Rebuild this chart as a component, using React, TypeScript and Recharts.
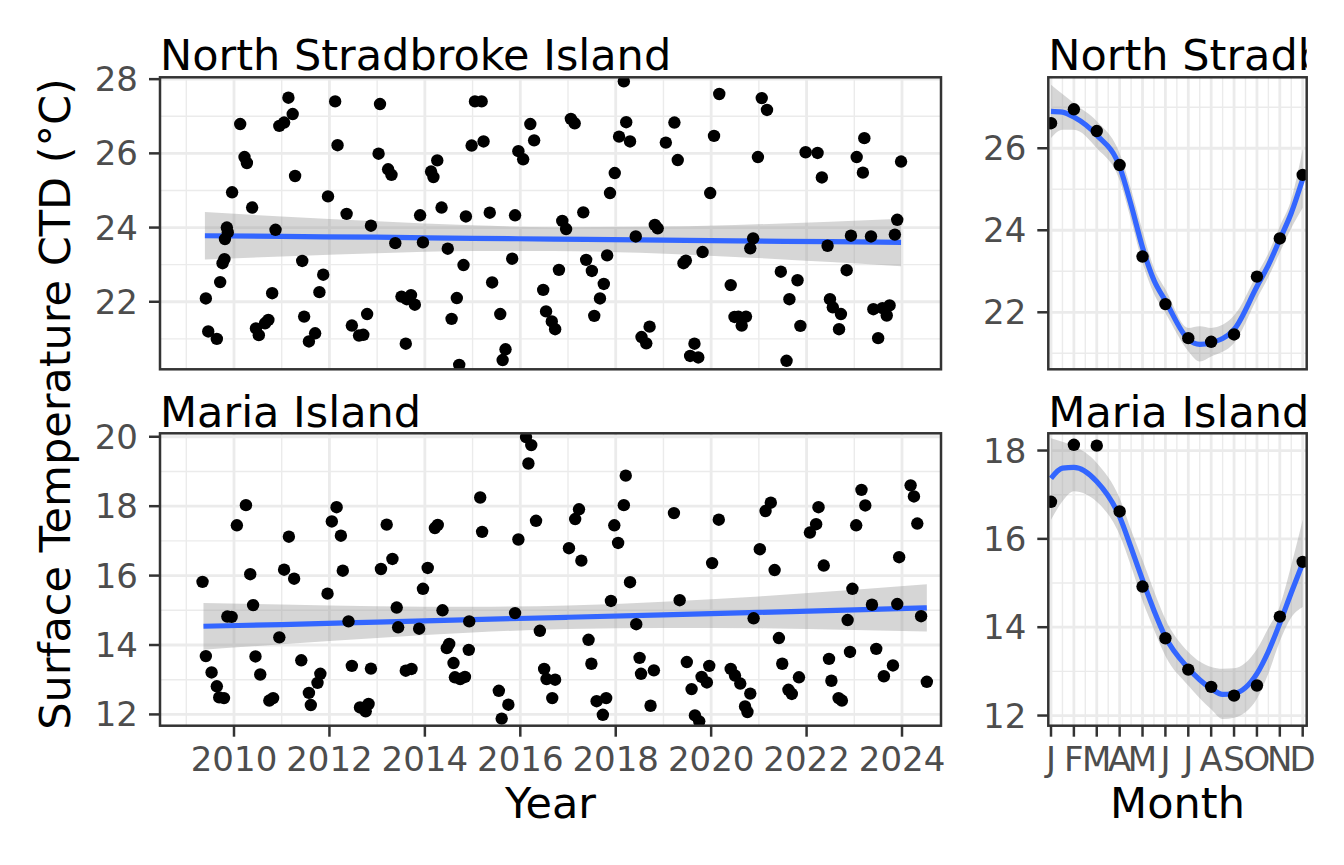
import React from "react";
import { Area, ComposedChart, Line, ReferenceLine, Scatter, XAxis, YAxis } from "recharts";

// North Stradbroke Island samples: [decimal year, temperature °C]
const nsiSamples: [number, number][] = [
  [2009.41, 22.09], [2009.46, 21.2], [2009.64, 21.0], [2009.71, 22.53], [2009.76, 23.04], [2009.8, 23.15], [2009.81, 23.69], [2009.85, 24.0], [2009.87, 23.87], [2009.96, 24.95],
  [2010.13, 26.79], [2010.22, 25.9], [2010.27, 25.74], [2010.38, 24.54], [2010.46, 21.28], [2010.52, 21.1], [2010.65, 21.42], [2010.72, 21.51], [2010.8, 22.23], [2010.87, 23.94], [2010.95, 26.74],
  [2011.05, 26.83], [2011.14, 27.5], [2011.23, 27.06], [2011.28, 25.39], [2011.43, 23.1], [2011.47, 21.6], [2011.57, 20.93], [2011.7, 21.15], [2011.79, 22.26], [2011.87, 22.73], [2011.97, 24.84],
  [2012.12, 27.4], [2012.17, 26.22], [2012.36, 24.37], [2012.47, 21.36], [2012.62, 21.09], [2012.71, 21.11], [2012.79, 21.67], [2012.87, 24.05],
  [2013.03, 25.99], [2013.06, 27.33], [2013.23, 25.57], [2013.3, 25.42], [2013.38, 23.58], [2013.51, 22.14], [2013.6, 20.87], [2013.62, 22.07], [2013.71, 22.18], [2013.79, 21.92], [2013.9, 24.33], [2013.96, 23.6],
  [2014.13, 25.51], [2014.18, 25.36], [2014.26, 25.81], [2014.35, 24.54], [2014.48, 23.43], [2014.56, 21.54], [2014.67, 22.1], [2014.72, 20.3], [2014.81, 22.99], [2014.86, 24.3], [2014.98, 26.21],
  [2015.05, 27.4], [2015.19, 27.4], [2015.23, 26.32], [2015.36, 24.4], [2015.41, 22.52], [2015.58, 21.67], [2015.63, 20.43], [2015.69, 20.72], [2015.83, 23.16], [2015.89, 24.33], [2015.96, 26.06],
  [2016.06, 25.84], [2016.21, 26.79], [2016.29, 26.35], [2016.48, 22.32], [2016.54, 21.74], [2016.66, 21.47], [2016.73, 21.26], [2016.81, 22.86], [2016.88, 24.18], [2016.96, 23.96],
  [2017.06, 26.93], [2017.14, 26.81], [2017.32, 24.41], [2017.38, 23.13], [2017.5, 22.83], [2017.55, 21.62], [2017.67, 22.09], [2017.75, 22.48], [2017.82, 23.25], [2017.88, 24.93], [2017.98, 25.47],
  [2018.07, 26.45], [2018.17, 27.94], [2018.22, 26.84], [2018.3, 26.32], [2018.42, 23.76], [2018.54, 21.05], [2018.64, 20.88], [2018.71, 21.33], [2018.82, 24.07], [2018.88, 23.98],
  [2019.05, 26.29], [2019.23, 26.83], [2019.3, 25.82], [2019.42, 23.04], [2019.47, 23.11], [2019.56, 20.54], [2019.65, 20.87], [2019.73, 20.5], [2019.82, 23.34], [2019.98, 24.93],
  [2020.06, 26.47], [2020.17, 27.6], [2020.41, 22.45], [2020.49, 21.59], [2020.57, 21.6], [2020.64, 21.36], [2020.73, 21.6], [2020.82, 23.44], [2020.88, 23.71], [2020.98, 25.9],
  [2021.06, 27.49], [2021.17, 27.17], [2021.46, 22.81], [2021.58, 20.41], [2021.64, 22.07], [2021.81, 22.58], [2021.87, 21.35], [2021.98, 26.03],
  [2022.23, 26.01], [2022.32, 25.35], [2022.44, 23.51], [2022.49, 22.07], [2022.55, 21.85], [2022.68, 21.26], [2022.72, 21.67], [2022.84, 22.85], [2022.93, 23.78],
  [2023.05, 25.9], [2023.18, 25.48], [2023.21, 26.41], [2023.35, 23.76], [2023.4, 21.8], [2023.5, 21.02], [2023.59, 21.83], [2023.68, 21.63], [2023.74, 21.9], [2023.85, 23.81], [2023.9, 24.21], [2023.98, 25.78],
];

// Maria Island samples: [decimal year, temperature °C]
const mariaSamples: [number, number][] = [
  [2009.34, 15.82], [2009.41, 13.68], [2009.53, 13.21], [2009.64, 12.81], [2009.69, 12.49], [2009.79, 12.47], [2009.86, 14.82], [2009.95, 14.81],
  [2010.06, 17.45], [2010.25, 18.03], [2010.34, 16.04], [2010.4, 15.15], [2010.45, 13.67], [2010.55, 13.15], [2010.74, 12.4], [2010.82, 12.47], [2010.95, 14.22],
  [2011.05, 16.17], [2011.15, 17.12], [2011.26, 15.91], [2011.41, 13.56], [2011.57, 12.62], [2011.61, 12.27], [2011.75, 12.91], [2011.81, 13.17], [2011.96, 15.48],
  [2012.05, 17.56], [2012.15, 17.97], [2012.24, 17.15], [2012.28, 16.14], [2012.4, 14.68], [2012.47, 13.4], [2012.64, 12.2], [2012.76, 12.09], [2012.82, 12.3], [2012.87, 13.32],
  [2013.08, 16.19], [2013.2, 17.47], [2013.32, 16.48], [2013.41, 15.08], [2013.44, 14.51], [2013.6, 13.26], [2013.72, 13.31], [2013.88, 14.47], [2013.96, 15.62],
  [2014.06, 16.22], [2014.21, 17.37], [2014.27, 17.46], [2014.37, 15.0], [2014.46, 13.91], [2014.51, 14.03], [2014.6, 13.48], [2014.63, 13.07], [2014.74, 13.02], [2014.84, 13.08], [2014.92, 13.86], [2014.93, 14.68],
  [2015.16, 18.25], [2015.2, 17.26], [2015.55, 12.68], [2015.61, 11.88], [2015.75, 12.28], [2015.89, 14.92], [2015.96, 17.04],
  [2016.12, 19.99], [2016.17, 19.23], [2016.23, 19.76], [2016.33, 17.58], [2016.41, 14.41], [2016.5, 13.31], [2016.55, 13.02], [2016.67, 12.47], [2016.73, 13.0],
  [2017.02, 16.79], [2017.15, 17.63], [2017.23, 17.91], [2017.28, 16.43], [2017.43, 14.15], [2017.49, 13.46], [2017.6, 12.38], [2017.73, 11.99], [2017.8, 12.47], [2017.9, 15.27], [2017.97, 17.45],
  [2018.05, 16.94], [2018.17, 18.03], [2018.21, 18.88], [2018.3, 15.81], [2018.43, 14.6], [2018.5, 13.63], [2018.53, 13.17], [2018.73, 12.25], [2018.8, 13.27],
  [2019.22, 17.8], [2019.34, 15.29], [2019.49, 13.51], [2019.59, 12.73], [2019.66, 11.97], [2019.75, 11.8], [2019.8, 13.08], [2019.91, 12.92], [2019.96, 13.4],
  [2020.02, 16.36], [2020.16, 17.61], [2020.41, 13.31], [2020.5, 13.12], [2020.61, 12.89], [2020.71, 12.23], [2020.76, 12.07], [2020.82, 12.6], [2020.89, 14.77],
  [2021.02, 16.76], [2021.14, 17.86], [2021.25, 18.1], [2021.33, 16.16], [2021.42, 14.2], [2021.49, 13.46], [2021.62, 12.71], [2021.69, 12.59], [2021.84, 13.07],
  [2022.07, 17.24], [2022.2, 17.48], [2022.25, 17.97], [2022.36, 16.29], [2022.47, 13.6], [2022.52, 12.97], [2022.67, 12.47], [2022.74, 12.4], [2022.86, 14.72], [2022.91, 13.8], [2022.96, 15.62],
  [2023.04, 17.45], [2023.15, 18.47], [2023.23, 18.02], [2023.37, 15.16], [2023.46, 13.89], [2023.62, 13.1], [2023.81, 13.41], [2023.9, 15.18], [2023.94, 16.53],
  [2024.18, 18.6], [2024.25, 18.28], [2024.32, 17.5], [2024.4, 14.83], [2024.52, 12.94],
];

// linear trend + 95% band: [year, fit, lower, upper]
const nsiTrend: [number, number, number, number][] = [
  [2009.39, 23.78, 23.14, 24.42], [2011.0, 23.76, 23.22, 24.3], [2013.0, 23.74, 23.31, 24.17],
  [2015.0, 23.71, 23.37, 24.06], [2016.7, 23.69, 23.37, 24.01], [2018.5, 23.67, 23.32, 24.02],
  [2020.5, 23.64, 23.21, 24.07], [2022.5, 23.62, 23.07, 24.16], [2023.98, 23.6, 22.96, 24.24],
];
const mariaTrend: [number, number, number, number][] = [
  [2009.36, 14.54, 13.86, 15.21], [2011.0, 14.59, 14.02, 15.17], [2013.0, 14.66, 14.2, 15.12],
  [2015.0, 14.73, 14.36, 15.1], [2017.0, 14.8, 14.46, 15.14], [2019.0, 14.87, 14.49, 15.25],
  [2021.0, 14.94, 14.48, 15.4], [2023.0, 15.01, 14.43, 15.59], [2024.52, 15.07, 14.39, 15.75],
];

// monthly means (Jan..Dec)
const monthLabels = ["J", "F", "M", "A", "M", "J", "J", "A", "S", "O", "N", "D"];
const nsiMonthMeans = [26.61, 26.95, 26.42, 25.59, 23.36, 22.2, 21.37, 21.28, 21.46, 22.87, 23.8, 25.35];
const mariaMonthMeans = [16.84, 18.13, 18.11, 16.62, 14.92, 13.75, 13.04, 12.65, 12.45, 12.68, 14.24, 15.48];

// seasonal smooth + band: [month, fit, lower, upper]
const nsiSeasonal: [number, number, number, number][] = [
  [1, 26.9, 26.25, 27.55], [1.5, 26.88, 26.45, 27.32], [2, 26.76, 26.45, 27.1], [3, 26.32, 26.0, 26.66],
  [4, 25.55, 25.22, 25.88], [4.5, 24.62, 24.25, 25.0], [5, 23.58, 23.2, 23.98], [5.5, 22.78, 22.45, 23.08],
  [6, 22.28, 21.98, 22.56], [7, 21.34, 21.05, 21.62], [7.5, 21.22, 20.8, 21.66], [8, 21.26, 20.92, 21.62],
  [9, 21.58, 21.25, 21.92], [10, 22.63, 22.33, 22.93], [10.5, 23.15, 22.86, 23.44], [11, 23.78, 23.46, 24.1],
  [11.5, 24.42, 24.05, 24.75], [12, 25.25, 24.55, 25.98],
];
const mariaSeasonal: [number, number, number, number][] = [
  [1, 17.37, 16.43, 18.28], [1.5, 17.6, 16.85, 18.2], [2, 17.62, 17.08, 18.1], [3, 17.3, 16.84, 17.72],
  [4, 16.5, 16.09, 16.92], [4.5, 15.8, 15.38, 16.2], [5, 15.07, 14.6, 15.52], [5.5, 14.38, 13.95, 14.82],
  [6, 13.78, 13.35, 14.18], [7, 13.07, 12.68, 13.44], [8, 12.61, 12.14, 13.1], [8.5, 12.48, 11.92, 13.06],
  [9, 12.5, 11.95, 13.07], [10, 12.95, 12.38, 13.5], [10.5, 13.45, 12.95, 13.98], [11, 14.09, 13.68, 14.48],
  [11.5, 14.78, 14.22, 15.4], [12, 15.45, 14.46, 16.43],
];

const yearTicks = [2010, 2012, 2014, 2016, 2018, 2020, 2022, 2024];
const yearMinor = [2009, 2011, 2013, 2015, 2017, 2019, 2021, 2023];
const monthTicks = [1, 2, 3, 4, 5, 6, 7, 8, 9, 10, 11, 12];
const monthMinor = [1.5, 2.5, 3.5, 4.5, 5.5, 6.5, 7.5, 8.5, 9.5, 10.5, 11.5];

const FONT = "DejaVu Sans, Verdana, sans-serif";
const GRID = "#ebebeb";
const INK = "#333333";

type Box = { left: number; top: number; width: number; height: number };
type Plot = { left: number; top: number; right: number; bottom: number };

const COL_YEAR = { left: 160, right: 941 };
const COL_MONTH = { left: 1048.3, right: 1306.7 };
const ROW_TOP = { top: 77.3, bottom: 369.3 };
const ROW_BOT = { top: 433.3, bottom: 725.7 };

const AXIS_H = 60;

function Dot(props: any) {
  return <circle cx={props.cx} cy={props.cy} r={6.2} fill="#000000" />;
}

function Panel(props: {
  box: Box;
  plot: Plot;
  samples: [number, number][];
  smooth: [number, number, number, number][];
  xDomain: [number, number];
  yDomain: [number, number];
  xMajor: number[];
  xMinor: number[];
  yMajor: number[];
  yMinor: number[];
  showX: boolean;
  xFormat?: (v: number) => string;
}) {
  const { box, plot, samples, smooth, xDomain, yDomain, xMajor, xMinor, yMajor, yMinor, showX, xFormat } = props;
  const points = samples.map(([x, y]) => ({ x, y }));
  const fit = smooth.map(([x, f, lo, hi]) => ({ x, fit: f, band: [lo, hi] }));
  const margin = {
    top: plot.top - box.top,
    right: box.left + box.width - plot.right,
    bottom: box.top + box.height - plot.bottom - (showX ? AXIS_H : 0),
    left: 0,
  };
  const tickStyle = { fill: "#4d4d4d", fontSize: 34, fontFamily: FONT };

  return (
    <div style={{ position: "absolute", left: box.left, top: box.top, width: box.width, height: box.height }}>
      <ComposedChart width={box.width} height={box.height} margin={margin}>
        <XAxis
          type="number"
          dataKey="x"
          domain={xDomain}
          allowDataOverflow
          ticks={xMajor}
          interval={0}
          hide={!showX}
          height={AXIS_H}
          axisLine={false}
          tickSize={11}
          tickMargin={10}
          tickLine={{ stroke: INK, strokeWidth: 2.5 }}
          tick={tickStyle}
          tickFormatter={xFormat}
        />
        <YAxis
          type="number"
          domain={yDomain}
          allowDataOverflow
          ticks={yMajor}
          interval={0}
          width={plot.left - box.left}
          axisLine={false}
          tickSize={11}
          tickMargin={11}
          tickLine={{ stroke: INK, strokeWidth: 2.5 }}
          tick={tickStyle}
        />
        {yMinor.map((v) => (
          <ReferenceLine key={"ym" + v} y={v} stroke={GRID} strokeWidth={1.4} zIndex={-100} />
        ))}
        {xMinor.map((v) => (
          <ReferenceLine key={"xm" + v} x={v} stroke={GRID} strokeWidth={1.4} zIndex={-100} />
        ))}
        {yMajor.map((v) => (
          <ReferenceLine key={"yM" + v} y={v} stroke={GRID} strokeWidth={2.8} zIndex={-100} />
        ))}
        {xMajor.map((v) => (
          <ReferenceLine key={"xM" + v} x={v} stroke={GRID} strokeWidth={2.8} zIndex={-100} />
        ))}
        <Area
          data={fit}
          dataKey="band"
          type="monotone"
          stroke="none"
          fill="#999999"
          fillOpacity={0.4}
          activeDot={false}
          isAnimationActive={false}
        />
        <Line
          data={fit}
          dataKey="fit"
          type="monotone"
          stroke="#3366FF"
          strokeWidth={5.2}
          dot={false}
          activeDot={false}
          isAnimationActive={false}
        />
        <Scatter data={points} dataKey="y" shape={Dot} isAnimationActive={false} />
      </ComposedChart>
    </div>
  );
}

export default function App() {
  const months = monthTicks.map((m, i) => [m, nsiMonthMeans[i]] as [number, number]);
  const mariaMonths = monthTicks.map((m, i) => [m, mariaMonthMeans[i]] as [number, number]);
  const yearDomain: [number, number] = [2008.449, 2024.817];
  const monthDomain: [number, number] = [0.882, 12.175];
  const plots: Plot[] = [
    { ...COL_YEAR, ...ROW_TOP },
    { ...COL_YEAR, ...ROW_BOT },
    { ...COL_MONTH, ...ROW_TOP },
    { ...COL_MONTH, ...ROW_BOT },
  ];
  const titleStyle = { fontFamily: FONT, fontSize: 43, fill: "#000000" };

  return (
    <div style={{ position: "absolute", left: 0, top: 0, width: 1344, height: 865, background: "#ffffff", fontFamily: FONT }}>
      <Panel
        box={{ left: 0, top: 0, width: 960, height: 380 }}
        plot={plots[0]}
        samples={nsiSamples}
        smooth={nsiTrend}
        xDomain={yearDomain}
        yDomain={[20.18, 28.05]}
        xMajor={yearTicks}
        xMinor={yearMinor}
        yMajor={[22, 24, 26, 28]}
        yMinor={[21, 23, 25, 27]}
        showX={false}
      />
      <Panel
        box={{ left: 0, top: 380, width: 960, height: 485 }}
        plot={plots[1]}
        samples={mariaSamples}
        smooth={mariaTrend}
        xDomain={yearDomain}
        yDomain={[11.675, 20.1]}
        xMajor={yearTicks}
        xMinor={yearMinor}
        yMajor={[12, 14, 16, 18, 20]}
        yMinor={[13, 15, 17, 19]}
        showX={true}
      />
      <Panel
        box={{ left: 960, top: 0, width: 384, height: 380 }}
        plot={plots[2]}
        samples={months}
        smooth={nsiSeasonal}
        xDomain={monthDomain}
        yDomain={[20.61, 27.73]}
        xMajor={monthTicks}
        xMinor={monthMinor}
        yMajor={[22, 24, 26]}
        yMinor={[21, 23, 25, 27]}
        showX={false}
      />
      <Panel
        box={{ left: 960, top: 380, width: 384, height: 485 }}
        plot={plots[3]}
        samples={mariaMonths}
        smooth={mariaSeasonal}
        xDomain={monthDomain}
        yDomain={[11.77, 18.39]}
        xMajor={monthTicks}
        xMinor={monthMinor}
        yMajor={[12, 14, 16, 18]}
        yMinor={[13, 15, 17]}
        showX={true}
        xFormat={(v) => monthLabels[v - 1]}
      />

      <svg width={1344} height={865} style={{ position: "absolute", left: 0, top: 0, pointerEvents: "none" }}>
        <defs>
          <clipPath id="clipTitleRight">
            <rect x={1000} y={0} width={COL_MONTH.right - 1000} height={80} />
          </clipPath>
        </defs>
        {plots.map((p, i) => (
          <rect
            key={i}
            x={p.left}
            y={p.top}
            width={p.right - p.left}
            height={p.bottom - p.top}
            fill="none"
            stroke={INK}
            strokeWidth={2.5}
          />
        ))}
        <text x={COL_YEAR.left} y={70} {...titleStyle}>North Stradbroke Island</text>
        <text x={COL_MONTH.left} y={70} {...titleStyle} clipPath="url(#clipTitleRight)">North Stradbroke Island</text>
        <text x={COL_YEAR.left} y={427} {...titleStyle}>Maria Island</text>
        <text x={COL_MONTH.left} y={427} {...titleStyle}>Maria Island</text>
        <text x={(COL_YEAR.left + COL_YEAR.right) / 2} y={818} textAnchor="middle" {...titleStyle}>Year</text>
        <text x={(COL_MONTH.left + COL_MONTH.right) / 2} y={818} textAnchor="middle" {...titleStyle}>Month</text>
        <text
          x={0}
          y={0}
          transform="translate(70, 404) rotate(-90)"
          textAnchor="middle"
          {...titleStyle}
        >
          Surface Temperature CTD (°C)
        </text>
      </svg>
    </div>
  );
}
